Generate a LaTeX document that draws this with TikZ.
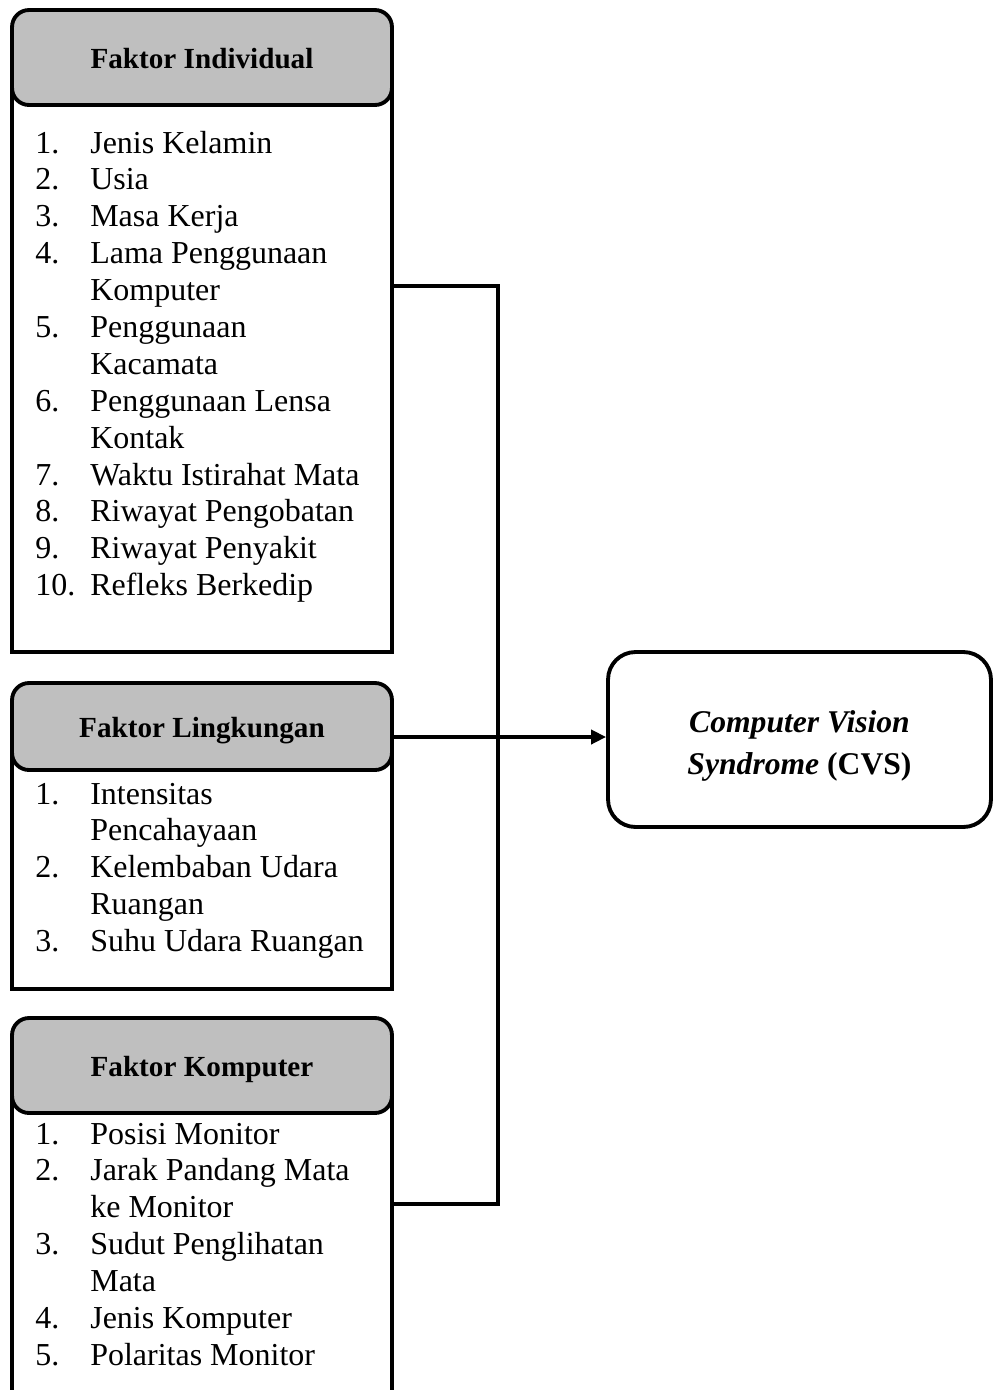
\documentclass[tikz,border=0pt]{standalone}
\usepackage{fontspec}
\setmainfont{Liberation Serif}
\usetikzlibrary{arrows.meta}
\definecolor{hdrgray}{RGB}{191,191,191}
\newcommand{\listfont}{\fontsize{18.2}{21}\selectfont}
\tikzset{
  hdr/.style={draw, line width=2.2pt, fill=hdrgray, rounded corners=0.34cm,
    minimum width=7.6cm, text height=15pt, text depth=2pt,
    font=\bfseries\fontsize{16.6}{20}\selectfont},
  bodybox/.style={draw, line width=2.2pt, minimum width=7.6cm},
  items/.style={anchor=base west, inner sep=0pt, font=\listfont},
  link/.style={line width=2.1pt},
}
\begin{document}
\begin{tikzpicture}[x=0.02cm, y=-0.02cm]
\useasboundingbox (0,0) rectangle (993,1390);
% faktor individual
\node[bodybox, minimum height=11.9cm] (bind) at (202,354.5){};
\node[hdr, minimum height=1.9cm] (hind) at (202,57.5){Faktor Individual};
\node[items] (lind) at (35,153){\begin{tabular}[t]{@{}p{1.1cm}@{}l@{}}
1. & Jenis Kelamin\\
2. & Usia\\
3. & Masa Kerja\\
4. & Lama Penggunaan\\
   & Komputer\\
5. & Penggunaan\\
   & Kacamata\\
6. & Penggunaan Lensa\\
   & Kontak\\
7. & Waktu Istirahat Mata\\
8. & Riwayat Pengobatan\\
9. & Riwayat Penyakit\\
10. & Refleks Berkedip
\end{tabular}};
% faktor lingkungan
\node[bodybox, minimum height=5.24cm] (blin) at (202,858){};
\node[hdr, minimum height=1.74cm] (hlin) at (202,726.5){Faktor Lingkungan};
\node[items] (llin) at (35,804){\begin{tabular}[t]{@{}p{1.1cm}@{}l@{}}
1. & Intensitas\\
   & Pencahayaan\\
2. & Kelembaban Udara\\
   & Ruangan\\
3. & Suhu Udara Ruangan
\end{tabular}};
% faktor komputer
\node[bodybox, minimum height=6.8cm] (bkom) at (202,1235){};
\node[hdr, minimum height=1.9cm] (hkom) at (202,1065.5){Faktor Komputer};
\node[items] (lkom) at (35,1144){\begin{tabular}[t]{@{}p{1.1cm}@{}l@{}}
1. & Posisi Monitor\\
2. & Jarak Pandang Mata\\
   & ke Monitor\\
3. & Sudut Penglihatan\\
   & Mata\\
4. & Jenis Komputer\\
5. & Polaritas Monitor
\end{tabular}};
% CVS
\node[draw, line width=2.2pt, rounded corners=0.55cm, minimum width=7.66cm,
  minimum height=3.5cm] (cvs) at (799.5,739.5){};
\node[align=center, font=\bfseries\fontsize{18}{24}\selectfont]
  (cvstext) at ([yshift=-0.13cm]cvs.center){\textit{Computer Vision}\\ \textit{Syndrome} (CVS)};
\coordinate (j1) at (498,286);
\coordinate (j3) at (498,1204);
\draw[link](bind.east |- j1) -- (j1) -- (j3) -- (bkom.east |- j3);
\draw[link, -{Triangle[length=0.3cm, width=0.28cm]}](hlin.east |- 0,737) -- (cvs.west |- 0,737);
\end{tikzpicture}
\end{document}
